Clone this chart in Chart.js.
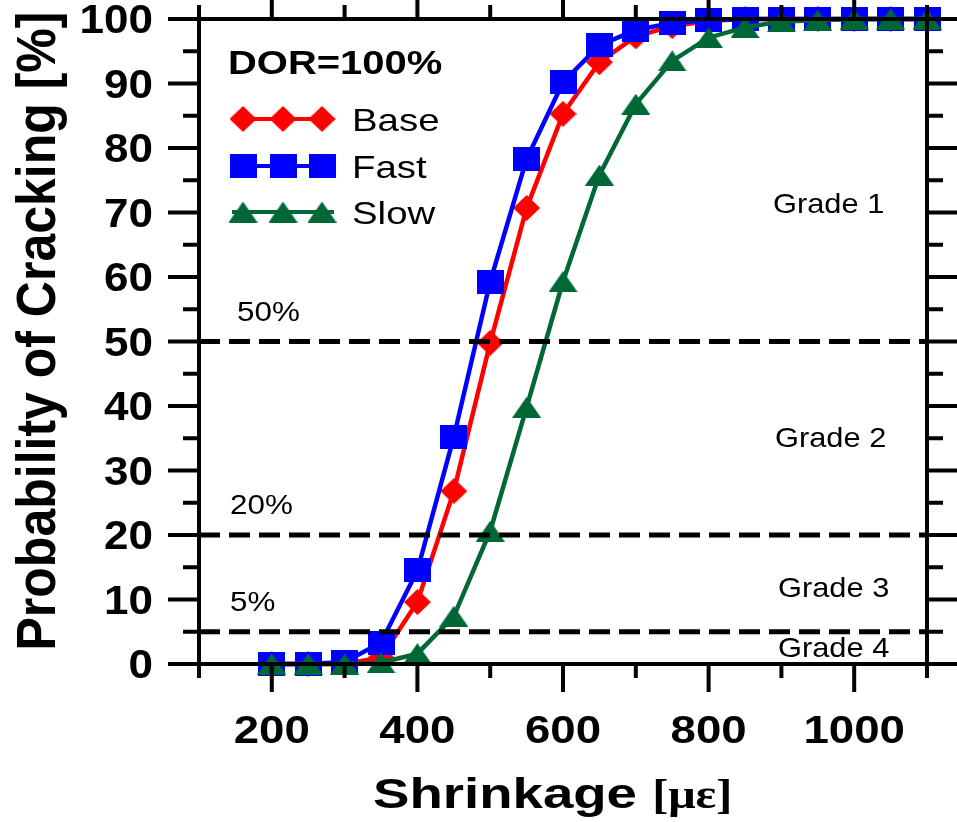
<!DOCTYPE html>
<html>
<head>
<meta charset="utf-8">
<script src="https://cdn.jsdelivr.net/npm/chart.js@4.4.1/dist/chart.umd.min.js"></script>
<style>
  html, body { margin: 0; padding: 0; background: #fff; }
  canvas { display: block; }
</style>
</head>
<body>
<canvas id="chart" width="957" height="822"></canvas>
<script>
// shrinkage values on the x axis (micro strain)
const shrinkage = [200, 250, 300, 350, 400, 450, 500, 550, 600, 650, 700, 750, 800, 850, 900, 950, 1000, 1050, 1100];
// probability of cracking [%]
const baseVals = [0, 0, 0, 1.0, 9.6, 26.8, 49.8, 70.7, 85.3, 93.3, 97.3, 98.9, 99.7, 100, 100, 100, 100, 100, 100];
const fastVals = [0, 0, 0.3, 3.3, 14.5, 35.2, 59.3, 78.3, 90.2, 95.9, 98.3, 99.4, 99.8, 100, 100, 100, 100, 100, 100];
const slowVals = [0, 0, 0, 0.2, 1.6, 7.4, 20.6, 39.8, 59.3, 75.8, 86.8, 93.5, 97.1, 98.7, 99.6, 99.8, 100, 100, 100];
const seriesNames = ['Base', 'Fast', 'Slow'];
const xTicks = [200, 400, 600, 800, 1000];
const yTicks = [0, 10, 20, 30, 40, 50, 60, 70, 80, 90, 100];
const thresholds = [50, 20, 5];
const thresholdLabels = ['50%', '20%', '5%'];
const gradeLabels = ['Grade 1', 'Grade 2', 'Grade 3', 'Grade 4'];

const RED = '#ff0000', BLUE = '#0000ff', GREEN = '#006837';
const SANS = '"Liberation Sans", Arial, sans-serif';

function marker(shape, w, h, color) {
  const c = document.createElement('canvas');
  c.width = w; c.height = h;
  const g = c.getContext('2d');
  g.fillStyle = color;
  g.beginPath();
  if (shape === 'diamond') {
    g.moveTo(w / 2, 0); g.lineTo(w, h / 2); g.lineTo(w / 2, h); g.lineTo(0, h / 2);
  } else if (shape === 'triangle') {
    g.moveTo(w / 2, 0); g.lineTo(w, h); g.lineTo(0, h);
  } else {
    g.rect(0, 0, w, h);
  }
  g.closePath();
  g.fill();
  return c;
}

const markers = [marker('diamond', 27, 26, RED), marker('rect', 27, 24, BLUE), marker('triangle', 29, 21, GREEN)];
const colors = [RED, BLUE, GREEN];

function pts(vals) {
  return shrinkage.map((x, i) => ({ x: x, y: vals[i] }));
}

function txt(ctx, s, x, y, font, sx, align) {
  ctx.save();
  ctx.font = font;
  ctx.translate(x, y);
  ctx.scale(sx, 1);
  ctx.textAlign = align || 'left';
  ctx.textBaseline = 'alphabetic';
  ctx.fillStyle = '#000';
  ctx.fillText(s, 0, 0);
  ctx.restore();
}

const framePlugin = {
  id: 'frame',
  afterDatasetsDraw(chart) {
    const ctx = chart.ctx;
    const xs = chart.scales.x, ys = chart.scales.y;
    const a = chart.chartArea;
    ctx.save();

    // threshold lines
    ctx.strokeStyle = '#000';
    ctx.lineWidth = 5;
    ctx.setLineDash([21, 9]);
    thresholds.forEach(t => {
      const py = ys.getPixelForValue(t);
      ctx.beginPath(); ctx.moveTo(a.left, py); ctx.lineTo(a.right, py); ctx.stroke();
    });
    ctx.setLineDash([]);

    // box
    ctx.lineWidth = 4;
    ctx.strokeRect(a.left, a.top, a.right - a.left, a.bottom - a.top);

    // ticks
    ctx.beginPath();
    xs.ticks.forEach(t => {
      const px = xs.getPixelForValue(t.value);
      const len = t.value % 200 === 0 ? 28 : 14;
      ctx.moveTo(px, a.bottom); ctx.lineTo(px, a.bottom + len);
      ctx.moveTo(px, a.top); ctx.lineTo(px, a.top - len);
    });
    ys.ticks.forEach(t => {
      const py = ys.getPixelForValue(t.value);
      const len = t.value % 10 === 0 ? 31 : 16;
      ctx.moveTo(a.left, py); ctx.lineTo(a.left - len, py);
      ctx.moveTo(a.right, py); ctx.lineTo(a.right + len, py);
    });
    ctx.stroke();

    // tick labels
    xTicks.forEach(v => {
      txt(ctx, String(v), xs.getPixelForValue(v), 743, 'bold 39px ' + SANS, 1.17, 'center');
    });
    yTicks.forEach(v => {
      txt(ctx, String(v), 153, ys.getPixelForValue(v) + 14, 'bold 40px ' + SANS, 1.1, 'right');
    });

    // threshold labels
    const thrX = [237, 230, 230];
    thresholds.forEach((t, i) => {
      txt(ctx, thresholdLabels[i], thrX[i], ys.getPixelForValue(t) - 21, '28px ' + SANS, 1.12);
    });

    // grade labels
    const gradeY = [213, 447, 597, 657];
    const gradeX = [773, 775, 778, 778];
    gradeLabels.forEach((g, i) => txt(ctx, g, gradeX[i], gradeY[i], '28px ' + SANS, 1.1));

    // legend
    txt(ctx, 'DOR=100%', 228, 74, 'bold 33px ' + SANS, 1.21);
    const rowY = [119, 166, 212];
    seriesNames.forEach((n, i) => {
      ctx.strokeStyle = colors[i];
      ctx.lineWidth = 4;
      ctx.beginPath(); ctx.moveTo(232, rowY[i]); ctx.lineTo(334, rowY[i]); ctx.stroke();
      [243, 283, 322].forEach(mx => {
        const m = markers[i];
        ctx.drawImage(m, mx - m.width / 2, rowY[i] - m.height / 2);
      });
      txt(ctx, n, 352, rowY[i] + 11.5, '32px ' + SANS, 1.2);
    });

    // x title
    ctx.font = 'bold 42px ' + SANS;
    const w1 = ctx.measureText('Shrinkage ').width * 1.3;
    txt(ctx, 'Shrinkage ', 373, 808, 'bold 42px ' + SANS, 1.3);
    txt(ctx, '[\u03bc\u03b5]', 373 + w1, 808, 'bold 42px "Liberation Serif", serif', 1.15);

    // y title
    ctx.save();
    ctx.translate(55, 331);
    ctx.rotate(-Math.PI / 2);
    ctx.scale(1, 1.1);
    ctx.font = 'bold 50px ' + SANS;
    ctx.textAlign = 'center';
    ctx.textBaseline = 'alphabetic';
    ctx.fillStyle = '#000';
    ctx.fillText('Probability of Cracking [%]', 0, 0);
    ctx.restore();

    ctx.restore();
  }
};

function ds(i, vals, order) {
  return {
    label: seriesNames[i],
    data: pts(vals),
    borderColor: colors[i],
    backgroundColor: colors[i],
    borderWidth: 4.5,
    pointStyle: markers[i],
    pointRadius: 13,
    tension: 0,
    clip: false,
    order: order
  };
}

new Chart(document.getElementById('chart'), {
  type: 'line',
  data: {
    datasets: [ds(0, baseVals, 3), ds(1, fastVals, 2), ds(2, slowVals, 1)]
  },
  options: {
    responsive: false,
    animation: false,
    layout: { padding: { top: 19, right: 30, left: 0, bottom: 0 } },
    plugins: { legend: { display: false }, tooltip: { enabled: false } },
    scales: {
      x: {
        type: 'linear', min: 100, max: 1100,
        ticks: { display: false, stepSize: 100 },
        grid: { display: false }, border: { display: false },
        afterFit: s => { s.height = 158; }
      },
      y: {
        min: 0, max: 100,
        ticks: { display: false, stepSize: 5 },
        grid: { display: false }, border: { display: false },
        afterFit: s => { s.width = 199; }
      }
    }
  },
  plugins: [framePlugin]
});
</script>
</body>
</html>
